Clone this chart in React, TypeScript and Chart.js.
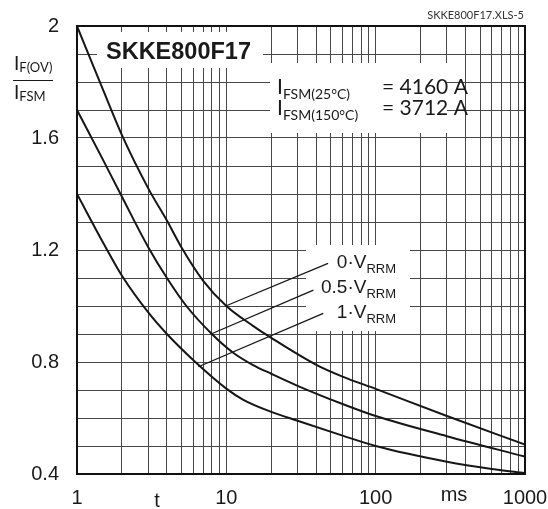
import { useEffect, useRef } from 'react';
import { Chart, registerables } from 'chart.js';

Chart.register(...registerables);

// ---- data ----
const tTop = [1, 1.5, 2, 3, 4, 5, 7, 10, 15, 20, 40, 60, 100, 300, 1000];
const vTop = [2.0, 1.77, 1.61, 1.42, 1.305, 1.21, 1.09, 1.0, 0.93, 0.886, 0.79, 0.748, 0.704, 0.607, 0.505];

const tMid = [1, 1.5, 2, 3, 4, 5.4, 8, 11, 15, 20, 30, 60, 100, 300, 1000];
const vMid = [1.7, 1.52, 1.39, 1.21, 1.1, 1.0, 0.9, 0.835, 0.79, 0.758, 0.715, 0.65, 0.607, 0.535, 0.462];

const tBot = [1, 1.5, 2, 3, 4, 6.2, 10, 13, 20, 30, 60, 100, 300, 600, 1000];
const vBot = [1.4, 1.225, 1.108, 0.977, 0.9, 0.8, 0.705, 0.665, 0.622, 0.59, 0.537, 0.5, 0.444, 0.418, 0.403];

// leader lines from the curves to the labels: [t, value] pairs
const leader0 = [[9.9, 1.0], [48, 1.152]];
const leader05 = [[7.9, 0.9], [38.3, 1.057]];
const leader1 = [[6.5, 0.783], [44.6, 0.974]];

const xGridTicks = [1, 2, 3, 4, 5, 6, 7, 8, 9, 10, 20, 30, 40, 50, 60, 70, 80, 90, 100, 200, 300, 400, 500, 600, 700, 800, 900, 1000];
const xLabelTicks = [1, 10, 100, 1000];
const yLabelTicks = [0.4, 0.8, 1.2, 1.6, 2];

const seriesLabels = ['0', '0.5', '1'];

const toXY = (ts: number[], vs: number[]) => ts.map((t, i) => ({ x: t, y: vs[i] }));
const pairXY = (p: number[][]) => p.map(([x, y]) => ({ x, y }));

const ARIAL = '"Liberation Sans", Arial, sans-serif';
const CALIBRI = 'Lato, "Open Sans", sans-serif';
const GRID = '#474747';

type Part = { text: string; font: string; dy: number };

function partsWidth(ctx: CanvasRenderingContext2D, parts: Part[]) {
  let w = 0;
  for (const p of parts) {
    ctx.font = p.font;
    w += ctx.measureText(p.text).width;
  }
  return w;
}

function drawParts(ctx: CanvasRenderingContext2D, x: number, y: number, parts: Part[]) {
  let cx = x;
  ctx.textAlign = 'left';
  ctx.textBaseline = 'alphabetic';
  for (const p of parts) {
    ctx.font = p.font;
    ctx.fillText(p.text, cx, y + p.dy);
    cx += ctx.measureText(p.text).width;
  }
  return cx;
}

const decor = {
  id: 'decor',
  beforeDatasetsDraw(chart: any) {
    const ctx = chart.ctx as CanvasRenderingContext2D;
    ctx.save();
    ctx.fillStyle = '#ffffff';
    ctx.fillRect(97, 32, 166, 36);
    ctx.fillRect(270, 63, 177, 70);
    ctx.fillRect(306, 245, 104, 86);
    ctx.restore();
  },
  afterDatasetsDraw(chart: any) {
    const ctx = chart.ctx as CanvasRenderingContext2D;
    const a = chart.chartArea;
    ctx.save();
    ctx.strokeStyle = '#111';
    ctx.lineWidth = 2;
    ctx.strokeRect(a.left, a.top, a.right - a.left, a.bottom - a.top);

    ctx.fillStyle = '#1a1a1a';
    ctx.font = `bold 23.5px ${ARIAL}`;
    ctx.textAlign = 'left';
    ctx.textBaseline = 'alphabetic';
    ctx.fillText('SKKE800F17', 106, 59);

    ctx.fillStyle = '#333';
    ctx.font = `11px ${CALIBRI}`;
    ctx.textAlign = 'right';
    ctx.fillText('SKKE800F17.XLS-5', 524, 19);

    ctx.fillStyle = '#1a1a1a';
    const big = `21px ${CALIBRI}`;
    const sub = `14px ${CALIBRI}`;
    drawParts(ctx, 277, 94, [
      { text: 'I', font: big, dy: 0 },
      { text: 'FSM(25°C)', font: sub, dy: 5 },
    ]);
    drawParts(ctx, 382, 94, [{ text: '= 4160 A', font: big, dy: 0 }]);
    drawParts(ctx, 277, 115, [
      { text: 'I', font: big, dy: 0 },
      { text: 'FSM(150°C)', font: sub, dy: 5 },
    ]);
    drawParts(ctx, 382, 115, [{ text: '= 3712 A', font: big, dy: 0 }]);

    const yBig = `19px ${CALIBRI}`;
    const ySub = `13px ${CALIBRI}`;
    drawParts(ctx, 14, 70, [
      { text: 'I', font: yBig, dy: 0 },
      { text: 'F(OV)', font: ySub, dy: 2 },
    ]);
    ctx.strokeStyle = '#1a1a1a';
    ctx.lineWidth = 1.2;
    ctx.beginPath();
    ctx.moveTo(13, 80.5);
    ctx.lineTo(53, 80.5);
    ctx.stroke();
    drawParts(ctx, 14, 99, [
      { text: 'I', font: yBig, dy: 0 },
      { text: 'FSM', font: ySub, dy: 2 },
    ]);

    const lMain = `19px ${ARIAL}`;
    const lSub = `13px ${ARIAL}`;
    const baselines = [268, 293, 318];
    seriesLabels.forEach((s, i) => {
      const parts: Part[] = [
        { text: `${s}\u00B7V`, font: lMain, dy: 0 },
        { text: 'RRM', font: lSub, dy: 5 },
      ];
      const w = partsWidth(ctx, parts);
      drawParts(ctx, 396 - w, baselines[i], parts);
    });

    ctx.font = `20px ${ARIAL}`;
    ctx.textAlign = 'center';
    ctx.fillText('t', 157, 507);
    ctx.fillText('ms', 454, 501);
    ctx.restore();
  },
};

export default function App() {
  const ref = useRef<HTMLCanvasElement | null>(null);

  useEffect(() => {
    if (!ref.current) return;
    const curve = (data: any) => ({
      data,
      showLine: true,
      borderColor: '#161616',
      borderWidth: 2,
      pointRadius: 0,
      cubicInterpolationMode: 'monotone' as const,
      fill: false,
    });
    const leader = (data: any) => ({
      data,
      showLine: true,
      borderColor: '#161616',
      borderWidth: 1.3,
      pointRadius: 0,
      tension: 0,
      fill: false,
    });
    const chart = new Chart(ref.current, {
      type: 'scatter',
      data: {
        datasets: [
          curve(toXY(tTop, vTop)),
          curve(toXY(tMid, vMid)),
          curve(toXY(tBot, vBot)),
          leader(pairXY(leader0)),
          leader(pairXY(leader05)),
          leader(pairXY(leader1)),
        ],
      },
      options: {
        responsive: false,
        animation: false,
        devicePixelRatio: 1,
        layout: { padding: { left: 0, right: 23, top: 26, bottom: 0 } },
        plugins: { legend: { display: false }, tooltip: { enabled: false } },
        scales: {
          x: {
            type: 'logarithmic',
            min: 1,
            max: 1000,
            afterBuildTicks: (s: any) => {
              s.ticks = xGridTicks.map((v) => ({ value: v }));
            },
            afterFit: (s: any) => {
              s.height = 35;
              s.paddingLeft = 0;
              s.paddingRight = 0;
            },
            ticks: {
              autoSkip: false,
              maxRotation: 0,
              padding: 12,
              color: '#1a1a1a',
              font: { family: ARIAL, size: 20 },
              callback: (v: any) => (xLabelTicks.includes(Number(v)) ? String(v) : ''),
            },
            grid: { color: GRID, lineWidth: 1, drawTicks: false },
            border: { display: false },
          },
          y: {
            type: 'linear',
            min: 0.4,
            max: 2,
            afterFit: (s: any) => {
              s.width = 77;
              s.paddingTop = 0;
              s.paddingBottom = 0;
            },
            ticks: {
              stepSize: 0.1,
              autoSkip: false,
              padding: 18,
              color: '#1a1a1a',
              font: { family: ARIAL, size: 20 },
              callback: (v: any) => {
                const n = Math.round(Number(v) * 10) / 10;
                const hit = yLabelTicks.find((t) => Math.abs(t - n) < 1e-6);
                if (hit === undefined) return '';
                return hit === 2 ? '2' : hit.toFixed(1);
              },
            },
            grid: { color: GRID, lineWidth: 1, drawTicks: false },
            border: { display: false },
          },
        },
      },
      plugins: [decor],
    });
    return () => chart.destroy();
  }, []);

  return (
    <div style={{ position: 'absolute', left: 0, top: 0, width: 548, height: 509, background: '#fff' }}>
      <canvas ref={ref} width={548} height={509} style={{ display: 'block' }} />
    </div>
  );
}
